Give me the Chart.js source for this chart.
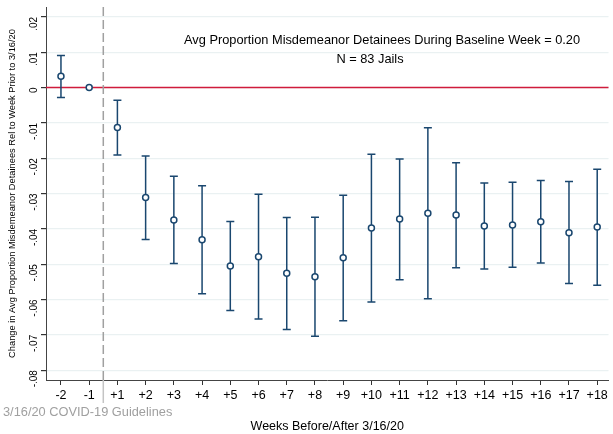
<!DOCTYPE html>
<html>
<head>
<meta charset="utf-8">
<script src="https://cdn.jsdelivr.net/npm/chart.js@4.4.1/dist/chart.umd.min.js"></script>
<style>
  html, body { margin: 0; padding: 0; background: #fff; }
  canvas { display: block; }
</style>
</head>
<body>
<canvas id="grafico" width="613" height="434"></canvas>
<script>
// semanas relativas a 3/16/20
const semanas = ['-2', '-1', '+1', '+2', '+3', '+4', '+5', '+6', '+7', '+8', '+9',
  '+10', '+11', '+12', '+13', '+14', '+15', '+16', '+17', '+18'];
const estimativas = [0.0032, 0, -0.0113, -0.0311, -0.0375, -0.0431, -0.0505, -0.0479, -0.0526, -0.0536,
  -0.0482, -0.0398, -0.0372, -0.0356, -0.0361, -0.0392, -0.0389, -0.0380, -0.0411, -0.0395];
const limiteInferior = [-0.0028, null, -0.0191, -0.0430, -0.0498, -0.0584, -0.0631, -0.0655, -0.0685, -0.0704,
  -0.0660, -0.0607, -0.0544, -0.0598, -0.0510, -0.0514, -0.0509, -0.0497, -0.0555, -0.0560];
const limiteSuperior = [0.0091, null, -0.0036, -0.0194, -0.0251, -0.0278, -0.0379, -0.0302, -0.0368, -0.0367,
  -0.0305, -0.0189, -0.0202, -0.0114, -0.0213, -0.0270, -0.0268, -0.0263, -0.0266, -0.0231];
const linhaBase = 0;
const marcoCovid = 1.5; // entre -1 e +1

const azul = '#1a476f';
const fonte = '"Liberation Sans", Arial, Helvetica, sans-serif';

const pontos = estimativas.map((v, i) => ({ x: i, y: v }));

function formatarTick(v) {
  const r = Math.round(v * 100) / 100;
  if (r === 0) return '0';
  return r.toFixed(2).replace('0.', '.');
}

// barras de erro, linha zero e linha tracejada
const extras = {
  id: 'extras',
  beforeDatasetsDraw(chart) {
    const { ctx, chartArea, scales: { x, y } } = chart;
    ctx.save();

    // linha em zero
    const y0 = y.getPixelForValue(linhaBase);
    ctx.strokeStyle = '#d01c3c';
    ctx.lineWidth = 1.5;
    ctx.beginPath();
    ctx.moveTo(chartArea.left, y0);
    ctx.lineTo(chartArea.right, y0);
    ctx.stroke();

    // intervalos de confiança
    ctx.strokeStyle = azul;
    ctx.lineWidth = 1.5;
    limiteInferior.forEach((lo, i) => {
      const hi = limiteSuperior[i];
      if (lo === null || hi === null) return;
      const px = x.getPixelForValue(i);
      const pLo = y.getPixelForValue(lo);
      const pHi = y.getPixelForValue(hi);
      ctx.beginPath();
      ctx.moveTo(px, pLo);
      ctx.lineTo(px, pHi);
      ctx.moveTo(px - 4, pLo);
      ctx.lineTo(px + 4, pLo);
      ctx.moveTo(px - 4, pHi);
      ctx.lineTo(px + 4, pHi);
      ctx.stroke();
    });

    // marco de 3/16/20
    const xm = x.getPixelForValue(marcoCovid);
    ctx.strokeStyle = '#a0a0a0';
    ctx.lineWidth = 1.5;
    ctx.setLineDash([9, 4]);
    ctx.beginPath();
    ctx.moveTo(xm, chartArea.top);
    ctx.lineTo(xm, chartArea.bottom);
    ctx.stroke();
    ctx.setLineDash([]);
    ctx.strokeStyle = '#c4c4c4';
    ctx.beginPath();
    ctx.moveTo(xm, chartArea.bottom);
    ctx.lineTo(xm, chartArea.bottom + 23);
    ctx.stroke();
    ctx.restore();
  },
  afterDraw(chart) {
    const { ctx } = chart;
    ctx.save();
    ctx.textBaseline = 'middle';
    ctx.fillStyle = '#000';
    ctx.font = '12.8px ' + fonte;
    ctx.textAlign = 'left';
    ctx.fillText('Avg Proportion Misdemeanor Detainees During Baseline Week = 0.20', 184, 40);
    ctx.textAlign = 'center';
    ctx.fillText('N = 83 Jails', 370, 59);

    ctx.fillStyle = '#a0a0a0';
    ctx.textAlign = 'left';
    ctx.fillText('3/16/20 COVID-19 Guidelines', 3, 412);
    ctx.restore();
  }
};

const chart = new Chart(document.getElementById('grafico').getContext('2d'), {
  type: 'scatter',
  data: {
    datasets: [{
      data: pontos,
      borderColor: azul,
      backgroundColor: '#ffffff',
      pointRadius: 3,
      pointBorderWidth: 1.5,
      pointHoverRadius: 3
    }]
  },
  options: {
    responsive: false,
    animation: false,
    layout: { padding: { top: 7, right: 0, left: 0, bottom: 0 } },
    plugins: {
      legend: { display: false },
      tooltip: { enabled: false }
    },
    scales: {
      x: {
        type: 'linear',
        min: -0.53,
        max: 19.4,
        afterFit: (s) => { s.height = 54; s.paddingLeft = 0; s.paddingRight = 0; },
        ticks: {
          stepSize: 1,
          includeBounds: false,
          autoSkip: false,
          maxRotation: 0,
          padding: 3,
          color: '#000',
          font: { family: fonte, size: 12.5 },
          callback: (v) => semanas[v] ?? ''
        },
        grid: { drawOnChartArea: false, tickColor: '#333', tickLength: 5 },
        border: { color: '#444', width: 1 },
        title: {
          display: true,
          text: 'Weeks Before/After 3/16/20',
          color: '#000',
          font: { family: fonte, size: 12.5 },
          padding: { top: 19, bottom: 0 }
        }
      },
      y: {
        min: -0.0828,
        max: 0.0228,
        afterFit: (s) => { s.width = 46; s.paddingTop = 0; s.paddingBottom = 0; },
        ticks: {
          stepSize: 0.01,
          includeBounds: false,
          minRotation: 90,
          maxRotation: 90,
          padding: 7,
          color: '#000',
          font: { family: fonte, size: 10 },
          callback: formatarTick
        },
        grid: { color: '#eaf1f2', lineWidth: 1.2, tickColor: '#333', tickLength: 5 },
        border: { color: '#444', width: 1 },
        title: {
          display: true,
          text: 'Change in Avg Proportion Misdemeanor Detainees Rel to Week Prior to 3/16/20',
          color: '#000',
          font: { family: fonte, size: 9.3 },
          padding: { top: 7, bottom: 0 }
        }
      }
    }
  },
  plugins: [extras]
});
</script>
</body>
</html>
